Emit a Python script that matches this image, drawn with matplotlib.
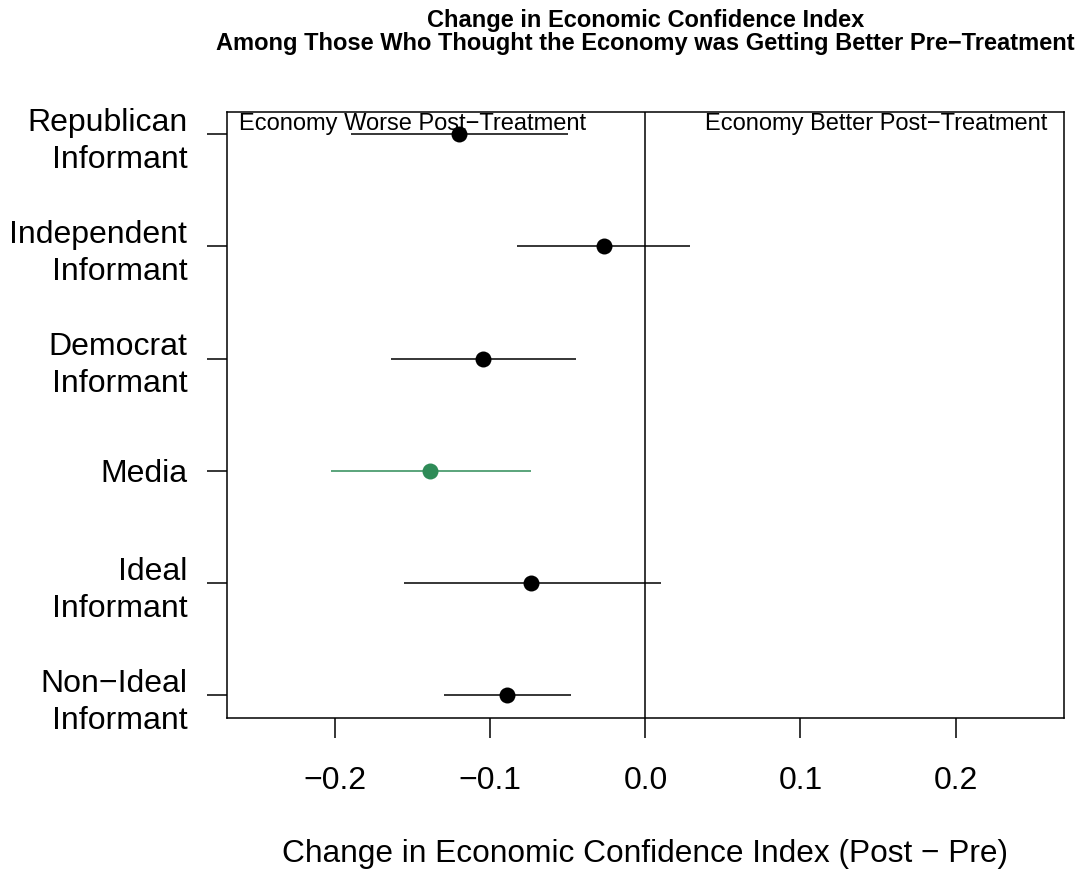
import numpy as np
import matplotlib.pyplot as plt

plt.rcParams['font.family'] = ['Liberation Sans', 'DejaVu Sans']

# treatment groups, top to bottom
groups = ["Republican\nInformant", "Independent\nInformant", "Democrat\nInformant",
          "Media", "Ideal\nInformant", "Non\u2212Ideal\nInformant"]
est = [-0.120, -0.027, -0.105, -0.139, -0.074, -0.089]
lo = [-0.190, -0.083, -0.164, -0.203, -0.156, -0.130]
hi = [-0.050, 0.029, -0.045, -0.074, 0.010, -0.048]
colors = ["black", "black", "black", "seagreen", "black", "black"]
xticks = [-0.2, -0.1, 0.0, 0.1, 0.2]

fig = plt.figure(figsize=(10.88, 8.74), dpi=100)
ax = fig.add_axes([0.2084, 0.1788, 0.7696, 0.6934])

ypos = np.arange(len(groups), 0, -1)
for y, m, l, h, c in zip(ypos, est, lo, hi, colors):
    ax.plot([l, h], [y, y], color=c, lw=1.1, solid_capstyle='butt')
    ax.plot(m, y, 'o', color=c, markersize=11.5, markeredgewidth=0)

ax.axvline(0, color='black', lw=1.1)

ax.set_xlim(-0.27, 0.27)
ax.set_ylim(0.8, 6.2)
ax.set_xticks(xticks)
ax.set_xticklabels([("%.1f" % v).replace("-", "\u2212") for v in xticks])
ax.set_yticks(ypos)
ax.set_yticklabels(groups, ha='right', multialignment='right', linespacing=1.32)

ax.tick_params(axis='x', length=14.5, width=1.1, pad=20.5, labelsize=23)
ax.tick_params(axis='y', length=14.5, width=1.1, pad=14, labelsize=23)
for s in ax.spines.values():
    s.set_linewidth(1.1)

ax.text(-0.262, 6.09, "Economy Worse Post\u2212Treatment", fontsize=17,
        ha='left', va='center')
ax.text(0.259, 6.09, "Economy Better Post\u2212Treatment", fontsize=17,
        ha='right', va='center')

ax.set_xlabel("Change in Economic Confidence Index (Post \u2212 Pre)", fontsize=22.8,
              labelpad=31)

# two-line bold title, centred over the plot box
xc = 0.2084 + 0.7696 / 2
fig.text(xc, 1 - 27 / 874, "Change in Economic Confidence Index",
         fontsize=17, fontweight='bold', ha='center', va='baseline')
fig.text(xc, 1 - 50 / 874,
         "Among Those Who Thought the Economy was Getting Better Pre\u2212Treatment",
         fontsize=17, fontweight='bold', ha='center', va='baseline')

fig.savefig("out.png", dpi=100)
